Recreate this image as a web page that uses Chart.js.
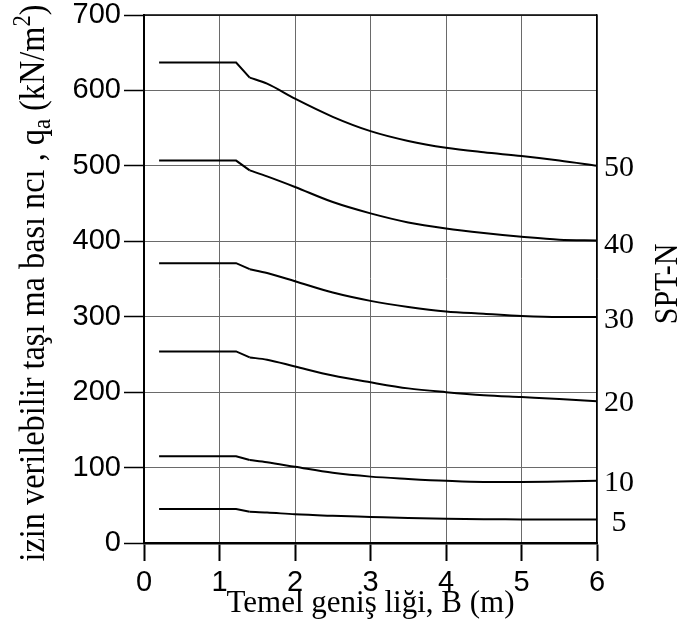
<!DOCTYPE html>
<html>
<head>
<meta charset="utf-8">
<script src="https://cdn.jsdelivr.net/npm/chart.js@4/dist/chart.umd.min.js"></script>
<style>
  html, body { margin: 0; padding: 0; background: #fff; }
  #wrap { width: 681px; height: 637px; position: relative; }
</style>
</head>
<body>
<div id="wrap"><canvas id="c" width="681" height="637"></canvas></div>
<script>
// ---- Data ----
const widthB = [0.2, 1.22, 1.4, 1.63, 2.0, 2.5, 3.0, 3.5, 4.0, 4.5, 5.0, 5.5, 6.0];
const sptLabels = ['50', '40', '30', '20', '10', '5'];
const q_N50 = [637, 637, 617, 609, 589, 565, 546, 533, 524, 518, 513, 507, 500];
const q_N40 = [507, 507, 494, 486, 472, 452, 437, 425, 417, 411, 406, 402, 401];
const q_N30 = [371, 371, 363, 358, 347, 332, 321, 313, 307, 304, 301, 299.5, 299.5];
const q_N20 = [254, 254, 246, 243, 234, 222, 213, 205, 200, 196, 193.5, 191, 188];
const q_N10 = [115, 115, 110, 107, 101, 93, 88, 85, 82.5, 81, 81, 81.5, 82.5];
const q_N5  = [45, 45, 41.5, 40.5, 38, 36, 34.5, 33, 32, 31.5, 31.3, 31, 31];
// where each SPT-N label sits on the right-hand axis (q value)
const sptLabelPos = [497, 395, 296, 186, 80, 27];
const xTicks = [0, 1, 2, 3, 4, 5, 6];
const yTicks = [0, 100, 200, 300, 400, 500, 600, 700];

const xTitle = 'Temel geniş liği, B (m)';
const yTitleParts = [
  { t: 'izin verilebilir taşı ma bası ncı , q', k: 'n' },
  { t: 'a', k: 'sub' },
  { t: ' (kN/m', k: 'n' },
  { t: '2', k: 'sup' },
  { t: ')', k: 'n' }
];
const rightTitle = 'SPT-N';

// index where the straight drop ends and the smooth decay begins
const KINK = 2;
const series = [q_N50, q_N40, q_N30, q_N20, q_N10, q_N5];
const datasets = [];
series.forEach((arr, i) => {
  const pts = widthB.map((x, j) => ({ x: x, y: arr[j] }));
  datasets.push({
    label: 'N=' + sptLabels[i] + ' (plateau)',
    data: pts.slice(0, KINK + 1),
    borderColor: '#000', borderWidth: 2, pointRadius: 0, fill: false, tension: 0
  });
  datasets.push({
    label: 'N=' + sptLabels[i],
    data: pts.slice(KINK),
    borderColor: '#000', borderWidth: 2, pointRadius: 0, fill: false,
    cubicInterpolationMode: 'monotone'
  });
});

const SERIF = '"Liberation Serif", "Times New Roman", serif';
const SANS = '"Liberation Sans", Arial, sans-serif';

const extraText = {
  id: 'extraText',
  afterDraw(chart) {
    const ctx = chart.ctx;
    const a = chart.chartArea;
    ctx.save();
    // top frame line
    ctx.strokeStyle = '#000';
    ctx.lineWidth = 1.5;
    ctx.beginPath();
    ctx.moveTo(a.left, a.top);
    ctx.lineTo(a.right, a.top);
    ctx.stroke();

    // left (rotated) title with subscript / superscript
    ctx.fillStyle = '#000';
    const big = 30, small = 21;
    let total = 0;
    const widths = yTitleParts.map(p => {
      ctx.font = (p.k === 'n' ? big : small) + 'px ' + SERIF;
      const w = ctx.measureText(p.t).width;
      total += w;
      return w;
    });
    const targetLen = 557;
    ctx.save();
    ctx.translate(44, 283);
    ctx.rotate(-Math.PI / 2);
    ctx.scale(targetLen / total, 1.2);
    ctx.textBaseline = 'alphabetic';
    ctx.textAlign = 'left';
    let x = -total / 2;
    yTitleParts.forEach((p, i) => {
      ctx.font = (p.k === 'n' ? big : small) + 'px ' + SERIF;
      const dy = p.k === 'sub' ? 5 : (p.k === 'sup' ? -12 : 0);
      ctx.fillText(p.t, x, dy);
      x += widths[i];
    });
    ctx.restore();

    // right title
    ctx.save();
    ctx.translate(677, 284);
    ctx.rotate(-Math.PI / 2);
    ctx.scale(1, 1.12);
    ctx.font = '30px ' + SERIF;
    ctx.textAlign = 'center';
    ctx.textBaseline = 'alphabetic';
    ctx.fillText(rightTitle, 0, 0);
    ctx.restore();

    ctx.restore();
  }
};

const noPad = s => { s.paddingTop = 0; s.paddingBottom = 0; s.paddingLeft = 0; s.paddingRight = 0; };

new Chart(document.getElementById('c'), {
  type: 'line',
  data: { datasets: datasets },
  plugins: [extraText],
  options: {
    responsive: false,
    animation: false,
    events: [],
    layout: { autoPadding: false, padding: { top: 15, left: 0, right: 0, bottom: 0 } },
    plugins: { legend: { display: false }, tooltip: { enabled: false } },
    scales: {
      x: {
        type: 'linear', min: 0, max: 6,
        afterBuildTicks: s => { s.ticks = xTicks.map(v => ({ value: v })); },
        ticks: { color: '#000', font: { family: SANS, size: 29 }, padding: 5, maxRotation: 0, autoSkip: false },
        grid: { color: '#6a6a6a', lineWidth: 1, tickLength: 18, tickColor: '#000', tickWidth: 2 },
        border: { color: '#000', width: 2.5 },
        title: { display: true, text: xTitle, color: '#000', font: { family: SERIF, size: 31 }, padding: { top: 0, bottom: 15 } },
        afterFit: s => { s.height = 94; noPad(s); }
      },
      y: {
        type: 'linear', min: 0, max: 700, position: 'left',
        afterBuildTicks: s => { s.ticks = yTicks.map(v => ({ value: v })); },
        ticks: { color: '#000', font: { family: SANS, size: 29 }, padding: 3 },
        grid: { color: '#6a6a6a', lineWidth: 1, tickLength: 20, tickColor: '#000', tickWidth: 1.5 },
        border: { color: '#000', width: 2 },
        afterFit: s => { s.width = 144; noPad(s); }
      },
      y2: {
        type: 'linear', min: 0, max: 700, position: 'right',
        afterBuildTicks: s => { s.ticks = sptLabelPos.map(v => ({ value: v })); },
        ticks: {
          color: '#000', font: { family: SERIF, size: 30 }, padding: -1, crossAlign: 'center',
          callback: (v, i) => sptLabels[i]
        },
        grid: { display: false, drawOnChartArea: false },
        border: { display: true, color: '#000', width: 1.5 },
        afterFit: s => { s.width = 84; noPad(s); }
      }
    }
  }
});
</script>
</body>
</html>
